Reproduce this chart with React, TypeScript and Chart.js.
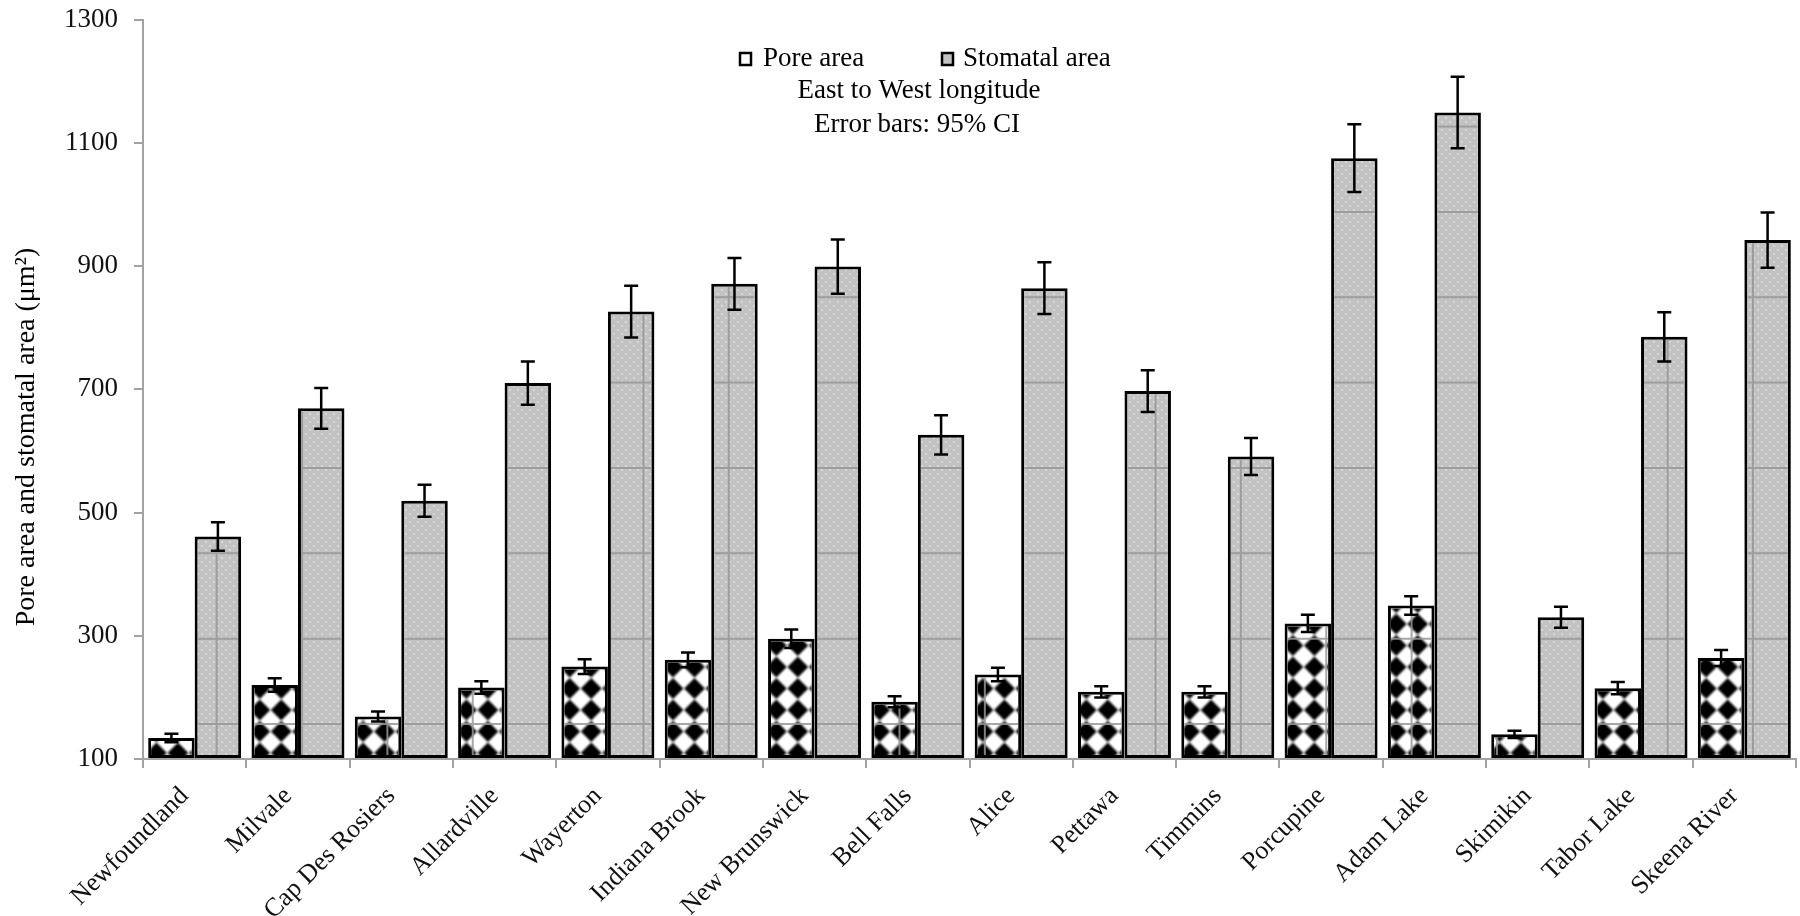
import React, { useEffect, useRef } from 'react';
import { Chart, registerables } from 'chart.js';

Chart.register(...registerables);

const categories = [
  'Newfoundland', 'Milvale', 'Cap Des Rosiers', 'Allardville', 'Wayerton', 'Indiana Brook',
  'New Brunswick', 'Bell Falls', 'Alice', 'Pettawa', 'Timmins', 'Porcupine', 'Adam Lake',
  'Skimikin', 'Tabor Lake', 'Skeena River',
];
const seriesLabels = ['Pore area', 'Stomatal area'];
const poreArea = [134, 220, 169, 216, 250, 261, 295, 193, 237, 209, 209, 320, 349, 140, 215, 264];
const poreCI = [7, 11, 8, 10, 12, 12, 15, 9, 11, 9, 9, 14, 15, 6, 10, 13];
const stomatalArea = [461, 669, 519, 710, 826, 871, 899, 626, 864, 697, 591, 1075, 1149, 330, 785, 942];
const stomatalCI = [23, 33, 26, 35, 42, 42, 44, 32, 42, 34, 30, 55, 58, 17, 40, 45];
const yTicks = [100, 300, 500, 700, 900, 1100, 1300];
const annotationLines = ['East to West longitude', 'Error bars: 95% CI'];
const yTitle = 'Pore area and stomatal area (\u03bcm\u00b2)';

const FONT = '"Liberation Serif", "Times New Roman", serif';
const AXIS_GRAY = '#a3a3a3';
const STOMATAL_GRAY = '#c2c2c2';

function makeDotPattern(): CanvasPattern | string {
  const c = document.createElement('canvas');
  c.width = 8;
  c.height = 8;
  const g = c.getContext('2d');
  if (!g) return STOMATAL_GRAY;
  g.fillStyle = STOMATAL_GRAY;
  g.fillRect(0, 0, 8, 8);
  g.fillStyle = '#d8d8d8';
  g.fillRect(1, 1, 2, 2);
  g.fillRect(5, 5, 2, 2);
  const p = g.createPattern(c, 'repeat');
  return p || STOMATAL_GRAY;
}

const BW = 3;

const texturePlugin = {
  id: 'texture',
  afterDatasetsDraw(chart: any) {
    const { ctx, chartArea } = chart;
    chart.data.datasets.forEach((_ds: any, di: number) => {
      const meta = chart.getDatasetMeta(di);
      if (meta.hidden) return;
      meta.data.forEach((el: any) => {
        const p = el.getProps(['x', 'y', 'base', 'width'], true);
        const outerL = p.x - p.width / 2;
        const l = outerL + BW;
        const r = p.x + p.width / 2 - BW;
        const t = Math.max(Math.min(p.y, p.base), chartArea.top) + BW;
        const b = Math.min(Math.max(p.y, p.base), chartArea.bottom) - BW;
        if (r <= l || b <= t) return;
        ctx.save();
        ctx.beginPath();
        ctx.rect(l, t, r - l, b - t);
        ctx.clip();
        if (di === 0) {
          const step = 21.5;
          const h = 10.4;
          ctx.filter = 'blur(1.1px)';
          ctx.fillStyle = '#000';
          ctx.beginPath();
          for (let cy = chartArea.bottom - 6; cy > t - step; cy -= step) {
            for (let cx = outerL + 8.3 - step; cx < r + step; cx += step) {
              ctx.moveTo(cx, cy - h);
              ctx.lineTo(cx + h, cy);
              ctx.lineTo(cx, cy + h);
              ctx.lineTo(cx - h, cy);
              ctx.closePath();
            }
          }
          ctx.fill();
          ctx.filter = 'none';
        }
        // tile seams of the original fill
        const period = 85.35;
        ctx.strokeStyle = 'rgba(150,150,150,0.85)';
        ctx.lineWidth = 2;
        ctx.beginPath();
        for (let sy = chartArea.bottom - 35; sy > t; sy -= period) {
          ctx.moveTo(l, sy);
          ctx.lineTo(r, sy);
        }
        for (let sx = chartArea.left + 73.7; sx < r; sx += period) {
          if (sx > l) {
            ctx.moveTo(sx, t);
            ctx.lineTo(sx, b);
          }
        }
        ctx.stroke();
        ctx.restore();
      });
    });
  },
};

const errorBarPlugin = {
  id: 'errorBars',
  afterDatasetsDraw(chart: any) {
    const { ctx } = chart;
    const yScale = chart.scales.y;
    const cis = [poreCI, stomatalCI];
    chart.data.datasets.forEach((ds: any, di: number) => {
      const meta = chart.getDatasetMeta(di);
      if (meta.hidden) return;
      meta.data.forEach((el: any, i: number) => {
        const v = ds.data[i];
        const e = cis[di][i];
        const x = el.x;
        const yt = yScale.getPixelForValue(v + e);
        const yb = yScale.getPixelForValue(v - e);
        const cap = 7;
        ctx.save();
        ctx.strokeStyle = '#000';
        ctx.lineWidth = 2.5;
        ctx.beginPath();
        ctx.moveTo(x, yt);
        ctx.lineTo(x, yb);
        ctx.moveTo(x - cap, yt);
        ctx.lineTo(x + cap, yt);
        ctx.moveTo(x - cap, yb);
        ctx.lineTo(x + cap, yb);
        ctx.stroke();
        ctx.restore();
      });
    });
  },
};

const annotationPlugin = {
  id: 'annotations',
  afterDraw(chart: any) {
    const { ctx } = chart;
    ctx.save();
    // legend
    ctx.font = `27px ${FONT}`;
    ctx.textBaseline = 'alphabetic';
    ctx.textAlign = 'left';
    ctx.fillStyle = '#000';
    const legendItems = [
      { box: 740, text: 763, fill: '#ffffff' },
      { box: 942, text: 963, fill: STOMATAL_GRAY },
    ];
    legendItems.forEach((it, i) => {
      ctx.fillStyle = it.fill;
      ctx.fillRect(it.box, 53, 11, 12);
      ctx.strokeStyle = '#000';
      ctx.lineWidth = 2.5;
      ctx.strokeRect(it.box, 53, 11, 12);
      ctx.fillStyle = '#000';
      ctx.fillText(chart.data.datasets[i].label, it.text, 66);
    });
    // annotation lines
    ctx.textAlign = 'center';
    ctx.fillText(annotationLines[0], 919, 98);
    ctx.fillText(annotationLines[1], 917, 132);
    // y title
    ctx.font = `28px ${FONT}`;
    ctx.translate(34, 437);
    ctx.rotate(-Math.PI / 2);
    ctx.textAlign = 'center';
    ctx.fillText(yTitle, 0, 0);
    ctx.restore();
  },
};

export default function App() {
  const canvasRef = useRef<HTMLCanvasElement | null>(null);

  useEffect(() => {
    const canvas = canvasRef.current;
    if (!canvas) return;
    const dotPattern = makeDotPattern();
    const chart = new Chart(canvas, {
      type: 'bar',
      data: {
        labels: categories,
        datasets: [
          {
            label: seriesLabels[0],
            data: poreArea,
            base: yTicks[0],
            backgroundColor: '#ffffff',
            borderColor: '#000000',
            borderWidth: BW,
            borderSkipped: false,
            categoryPercentage: 0.9,
            barPercentage: 1.0,
          } as any,
          {
            label: seriesLabels[1],
            data: stomatalArea,
            base: yTicks[0],
            backgroundColor: dotPattern as any,
            borderColor: '#000000',
            borderWidth: BW,
            borderSkipped: false,
            categoryPercentage: 0.9,
            barPercentage: 1.0,
          } as any,
        ],
      },
      options: {
        animation: false,
        responsive: true,
        maintainAspectRatio: false,
        layout: { padding: { top: 0, right: 4, bottom: 0, left: 0 } },
        plugins: {
          legend: { display: false },
          tooltip: { enabled: false },
          title: { display: false },
        },
        scales: {
          x: {
            grid: {
              display: true,
              offset: true,
              drawOnChartArea: false,
              drawTicks: true,
              tickLength: 9,
              color: AXIS_GRAY,
              lineWidth: 2,
            },
            border: { display: true, color: AXIS_GRAY, width: 2 },
            ticks: {
              autoSkip: false,
              minRotation: 45,
              maxRotation: 45,
              padding: 13,
              labelOffset: -10,
              color: '#111',
              font: { family: FONT, size: 26 },
            },
            afterFit(scale: any) {
              scale.height = 157;
            },
          },
          y: {
            min: 100,
            max: 1300,
            afterBuildTicks(scale: any) {
              scale.ticks = yTicks.map((v) => ({ value: v }));
            },
            grid: {
              display: true,
              drawOnChartArea: false,
              drawTicks: true,
              tickLength: 9,
              color: AXIS_GRAY,
              lineWidth: 2,
            },
            border: { display: true, color: AXIS_GRAY, width: 2 },
            ticks: {
              padding: 16,
              color: '#111',
              font: { family: FONT, size: 27 },
              callback: (v: any) => String(v),
            },
            afterFit(scale: any) {
              scale.width = 143;
              scale.paddingTop = 19.5;
              scale.paddingBottom = 0;
            },
          },
        },
      },
      plugins: [texturePlugin, errorBarPlugin, annotationPlugin],
    });
    return () => {
      chart.destroy();
    };
  }, []);

  return (
    <div style={{ position: 'fixed', left: 0, top: 0, width: 1800, height: 916, background: '#fff' }}>
      <canvas ref={canvasRef} />
    </div>
  );
}
